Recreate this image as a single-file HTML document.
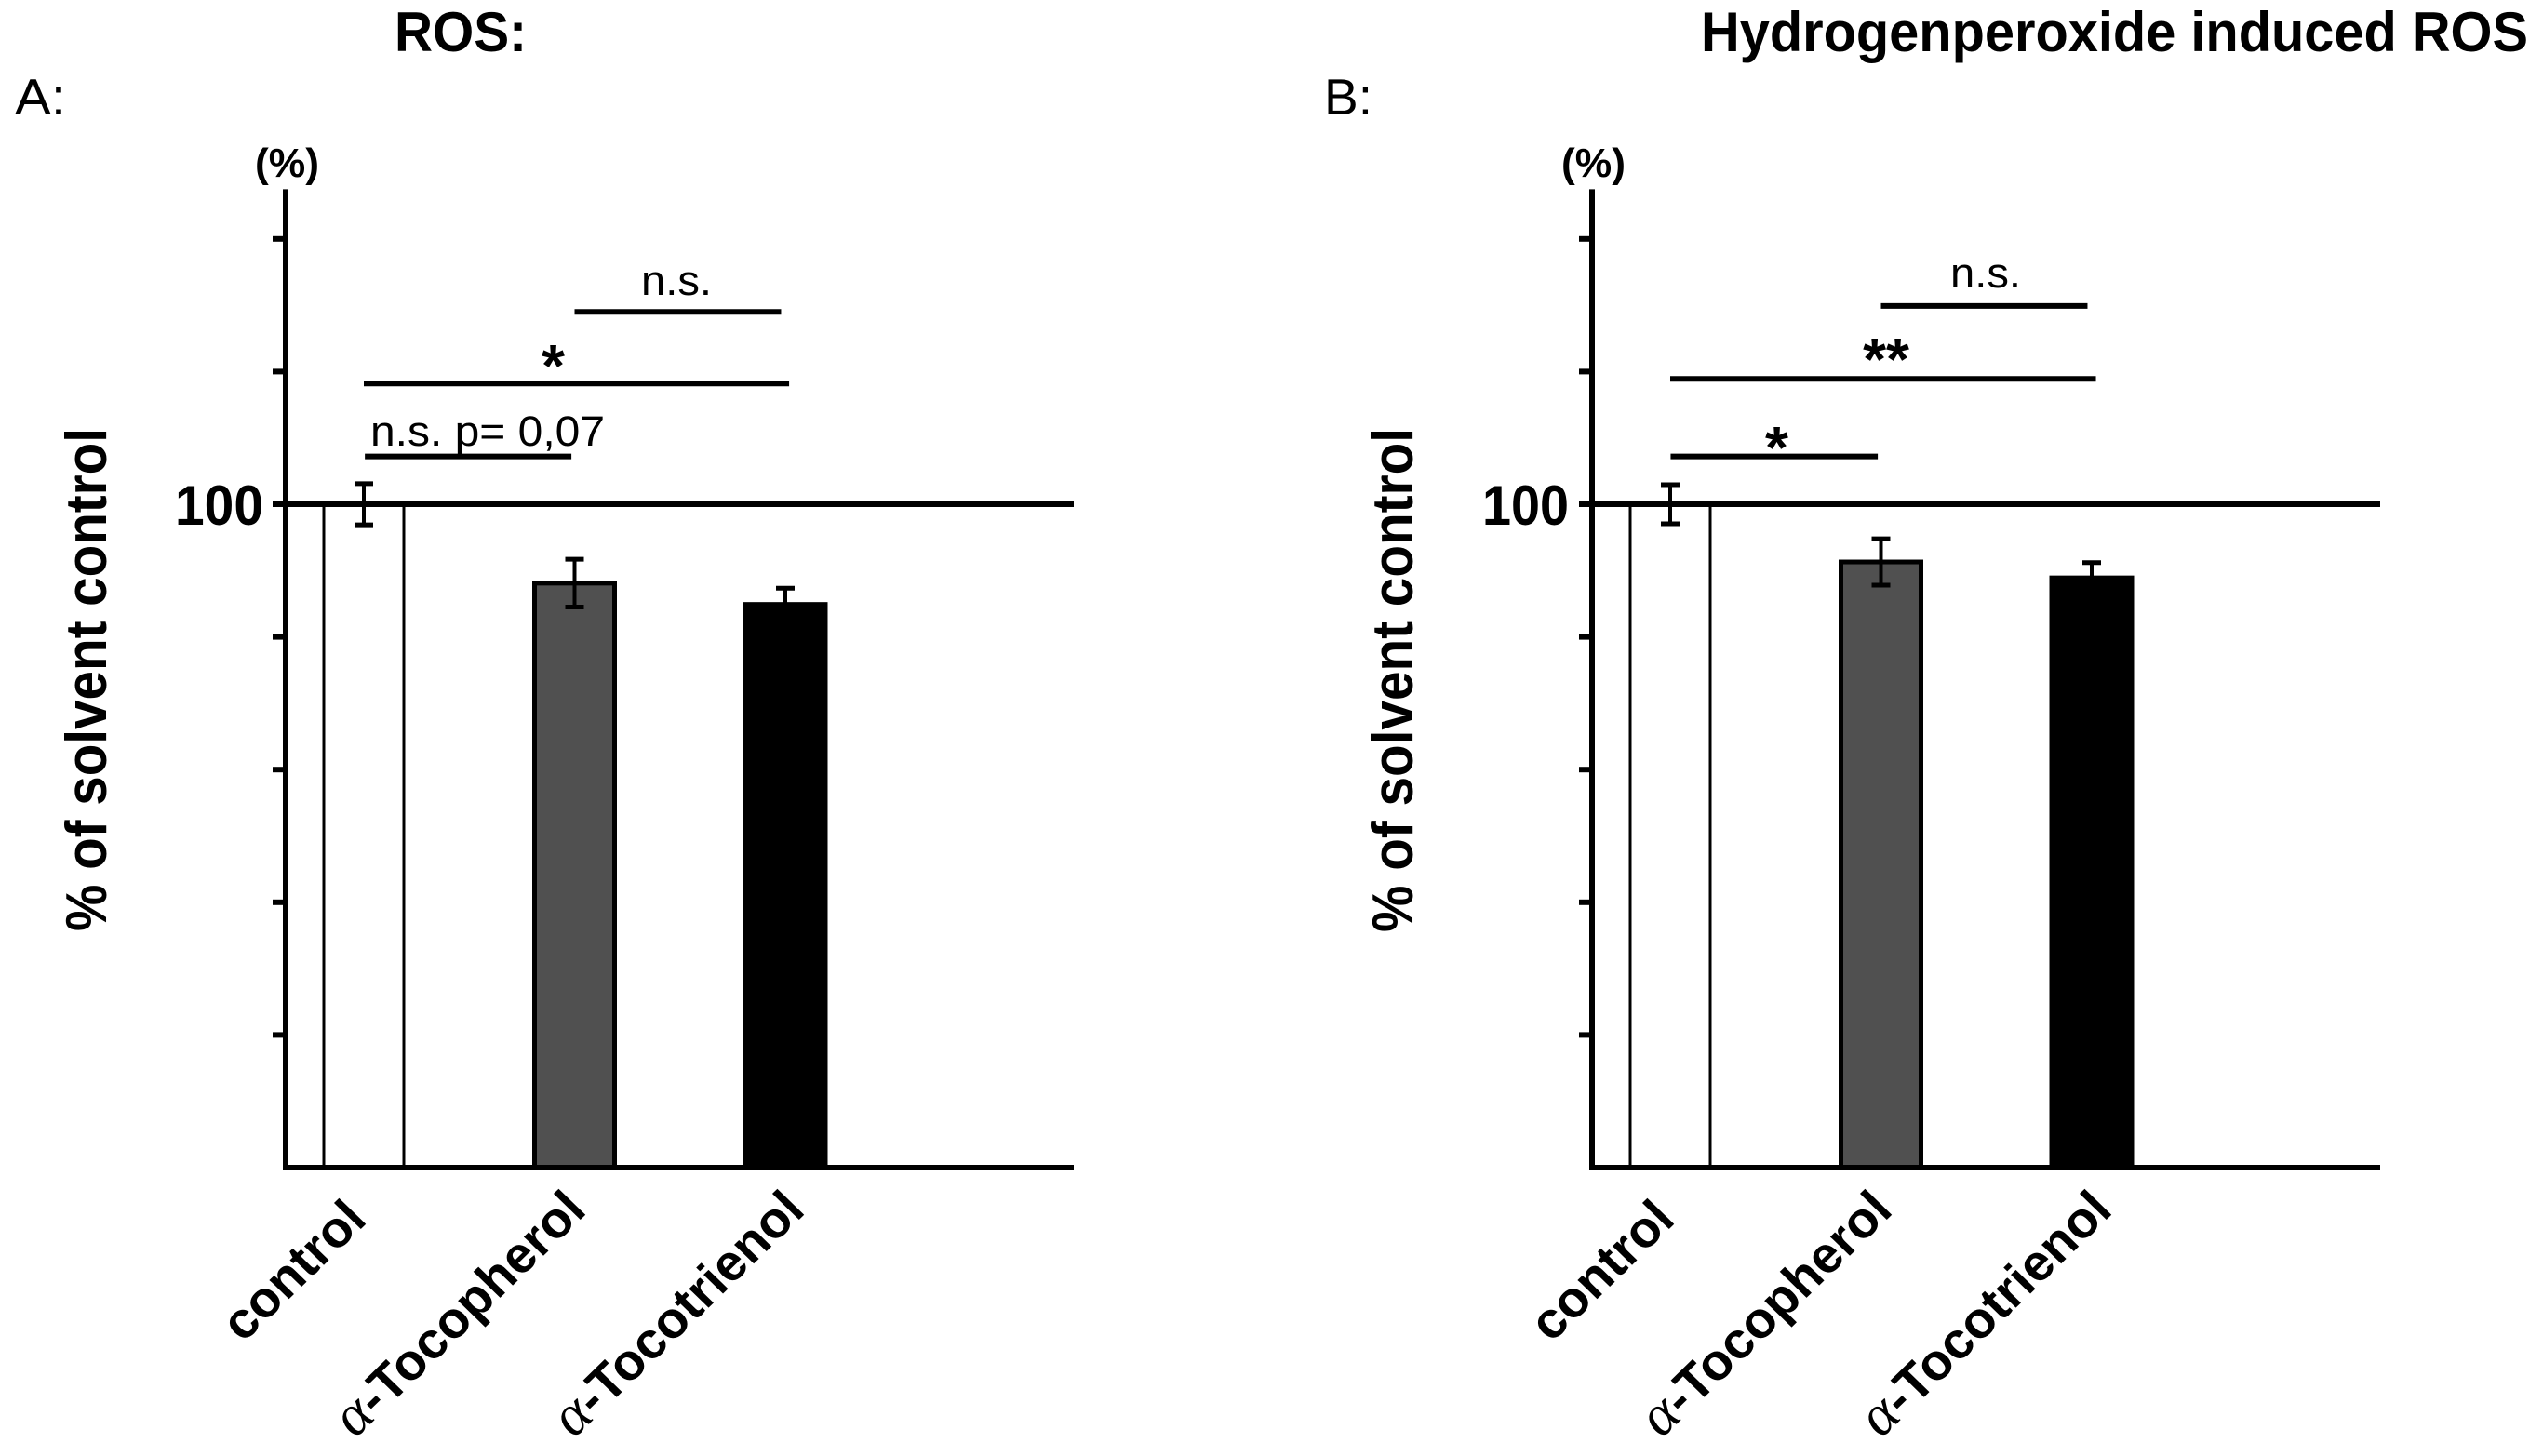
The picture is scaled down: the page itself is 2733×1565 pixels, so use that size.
<!DOCTYPE html>
<html lang="en">
<head>
<meta charset="utf-8">
<title>ROS charts</title>
<style>
html,body{margin:0;padding:0;background:#fff;}
svg{display:block;}
text{font-family:"Liberation Sans",sans-serif;fill:#000;}
.b{font-weight:bold;}
</style>
</head>
<body>
<svg id="figure" xmlns="http://www.w3.org/2000/svg" width="2733" height="1565" viewBox="0 0 2733 1565">
<rect width="2733" height="1565" fill="#fff"/>
<text class="b" x="424" y="55" font-size="60" textLength="142" lengthAdjust="spacingAndGlyphs">ROS:</text>
<text class="b" x="1828" y="55" font-size="60" textLength="889" lengthAdjust="spacingAndGlyphs">Hydrogenperoxide induced ROS</text>
<text x="16" y="123" font-size="55" textLength="55" lengthAdjust="spacingAndGlyphs">A:</text>
<text x="1423" y="123" font-size="55" textLength="52" lengthAdjust="spacingAndGlyphs">B:</text>
<text class="b" x="274" y="190" font-size="44" textLength="69" lengthAdjust="spacingAndGlyphs">(%)</text>
<text class="b" x="1678" y="190" font-size="44" textLength="69" lengthAdjust="spacingAndGlyphs">(%)</text>
<text class="b" transform="translate(114,1001) rotate(-90)" font-size="62" textLength="541" lengthAdjust="spacingAndGlyphs">% of solvent control</text>
<text class="b" transform="translate(1518,1002) rotate(-90)" font-size="62" textLength="542" lengthAdjust="spacingAndGlyphs">% of solvent control</text>
<text x="689" y="317" font-size="45" textLength="76" lengthAdjust="spacingAndGlyphs">n.s.</text>
<text class="b" x="594.5" y="415" font-size="64" text-anchor="middle">*</text>
<text x="398" y="479" font-size="45" textLength="252" lengthAdjust="spacingAndGlyphs">n.s. p= 0,07</text>
<text x="2096" y="309" font-size="45" textLength="76" lengthAdjust="spacingAndGlyphs">n.s.</text>
<text class="b" x="2027" y="408" font-size="64" text-anchor="middle">**</text>
<text class="b" x="1909.5" y="503" font-size="64" text-anchor="middle">*</text>
<g id="marks"></g>
</svg>
<script>
// Chart data
const categories = ['control', 'α-Tocopherol', 'α-Tocotrienol'];
const tickValues = [0, 20, 40, 60, 80, 100, 120, 140];
const tickLabels = ['', '', '', '', '', '100', '', ''];
const valuesA = [100, 88.1, 84.9];
const errorsA = [3.1, 3.6, 2.45];
const valuesB = [100, 91.3, 88.9];
const errorsB = [2.95, 3.5, 2.3];
// Bracket spans: start category, end category, height in axis units
const bracketStartsA = [1.0, 0, 0.005];
const bracketEndsA = [1.98, 2.018, 0.985];
const bracketLevelsA = [129, 118.2, 107.2];
const bracketStartsB = [1.0, 0, 0.002];
const bracketEndsB = [1.98, 2.02, 0.985];
const bracketLevelsB = [129.9, 118.9, 107.2];

const NS = 'http://www.w3.org/2000/svg';
const root = document.getElementById('marks');
const BASE_Y = 1255;
const PX_PER_UNIT = 7.13;
const BAR_WIDTH = 86;
const FILLS = ['#fff', '#505050', '#000'];
const STROKES = [3, 5, 5];

function yScale(v) { return BASE_Y - v * PX_PER_UNIT; }

function shape(tag, attrs) {
  const el = document.createElementNS(NS, tag);
  for (const k in attrs) el.setAttribute(k, attrs[k]);
  root.appendChild(el);
  return el;
}

function segment(x1, y1, x2, y2, w) {
  return shape('line', { x1: x1, y1: y1, x2: x2, y2: y2, stroke: '#000', 'stroke-width': w });
}

function drawPanel(p, values, errors, starts, ends, levels) {
  const xScale = i => p.first + i * p.step;

  values.forEach((v, i) => {
    const cx = xScale(i);
    const bar = shape('rect', {
      x: cx - BAR_WIDTH / 2, y: yScale(v), width: BAR_WIDTH, height: BASE_Y - yScale(v),
      fill: FILLS[i], stroke: '#000', 'stroke-width': STROKES[i]
    });
    
    
  });

  const yAxis = segment(p.axisX, yScale(147.5), p.axisX, BASE_Y + 3, 6);
  
  

  const xAxis = segment(p.axisX - 3, BASE_Y, p.axisEnd, BASE_Y, 6);
  
  

  const refLine = segment(p.axisX - 14, yScale(100), p.axisEnd, yScale(100), 6);
  
  

  tickValues.forEach((t, i) => {
    if (t > 0) {
      const tick = segment(p.axisX - 14, yScale(t), p.axisX, yScale(t), 6);
      
      
    }
    if (tickLabels[i]) {
      const label = shape('text', {
        x: p.labelEnd, y: yScale(t) + 22, 'font-size': 60, 'font-weight': 'bold', 'text-anchor': 'end',
        textLength: p.labelLen, lengthAdjust: 'spacingAndGlyphs'
      });
      label.textContent = tickLabels[i];
      
      
    }
  });

  values.forEach((v, i) => {
    const cx = xScale(i);
    const top = yScale(v + errors[i]);
    const bottom = yScale(v - errors[i]);
    const stem = segment(cx, top, cx, bottom, 4);
    
    
    const capTop = segment(cx - p.cap, top, cx + p.cap, top, 5);
    
    
    const capBottom = segment(cx - p.cap, bottom, cx + p.cap, bottom, 5);
    
    
  });

  levels.forEach((level, i) => {
    const bracket = segment(xScale(starts[i]), yScale(level), xScale(ends[i]), yScale(level), 6);
    
    
  });

  categories.forEach((name, i) => {
    const end = p.catEnds[i];
    const label = shape('text', {
      transform: 'matrix(0.75,-0.73,0.75,0.73,' + end[0] + ',' + end[1] + ')',
      'text-anchor': 'end', 'font-size': 53, 'font-weight': 'bold'
    });
    
    
    if (name.charAt(0) === 'α') {
      const greek = document.createElementNS(NS, 'tspan');
      greek.setAttribute('style', 'font-family:"Liberation Serif",serif;font-style:italic;font-weight:normal;font-size:60px;');
      greek.textContent = 'α';
      label.appendChild(greek);
      const rest = document.createElementNS(NS, 'tspan');
      rest.textContent = name.slice(1);
      label.appendChild(rest);
    } else {
      label.textContent = name;
    }
  });
}

drawPanel({
  id: 'a', first: 391, step: 226.5, axisX: 307, axisEnd: 1154, cap: 10,
  labelEnd: 283, labelLen: 95,
  catEnds: [[396, 1313], [632, 1303], [867, 1303]]
}, valuesA, errorsA, bracketStartsA, bracketEndsA, bracketLevelsA);

drawPanel({
  id: 'b', first: 1795, step: 226.5, axisX: 1711, axisEnd: 2558, cap: 10,
  labelEnd: 1686, labelLen: 93,
  catEnds: [[1802, 1313], [2036, 1303], [2272, 1303]]
}, valuesB, errorsB, bracketStartsB, bracketEndsB, bracketLevelsB);
</script>
</body>
</html>
